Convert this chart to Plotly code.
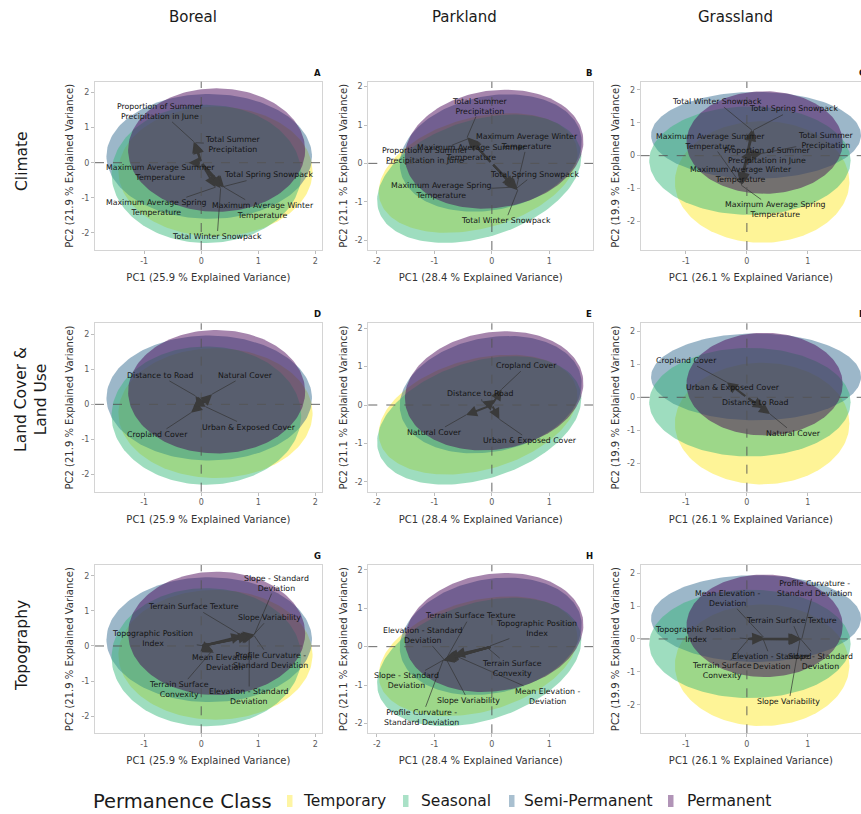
import numpy as np
import plotly.graph_objects as go

FIG_W, FIG_H = 861, 814
FONT = "DejaVu Sans"

regions = ["Boreal", "Parkland", "Grassland"]
themes = ["Climate", "Land Cover &<br>Land Use", "Topography"]
panel_tags = ["A", "B", "C", "D", "E", "F", "G", "H", "I"]
pc1_explained = [25.9, 28.4, 26.1]
pc2_explained = [21.9, 21.1, 19.9]

classes = ["Temporary", "Seasonal", "Semi-Permanent", "Permanent"]
class_colors = ["#FDE725", "#35B779", "#31688E", "#440154"]
# stacking order of the translucent ellipses (bottom to top)
draw_order = [0, 2, 1, 3]

# Group ellipses in PC space, one value per class (Temporary, Seasonal, Semi-Permanent, Permanent)
boreal_ell_cx = [0.25, 0.09, 0.14, 0.27]
boreal_ell_cy = [-0.25, -0.32, 0.18, 0.36]
boreal_ell_a = [1.70, 1.66, 1.80, 1.55]
boreal_ell_b = [1.85, 1.97, 1.78, 1.76]
boreal_ell_ang = [0, 0, -8, 0]

parkland_ell_cx = [-0.24, -0.22, -0.02, 0.04]
parkland_ell_cy = [-0.25, -0.40, 0.27, 0.37]
parkland_ell_a = [1.90, 2.00, 1.70, 1.65]
parkland_ell_b = [1.35, 1.40, 1.40, 1.45]
parkland_ell_ang = [36, 40, 40, 45]

grassland_ell_cx = [0.25, 0.05, 0.15, 0.29]
grassland_ell_cy = [-0.80, -0.15, 0.62, 0.40]
grassland_ell_a = [1.43, 1.65, 1.72, 1.28]
grassland_ell_b = [1.85, 1.65, 1.32, 1.56]
grassland_ell_ang = [0, 0, 0, 0]

# Variable loadings (arrow tips) and label placements
climate_vars = ["Proportion of Summer<br>Precipitation in June", "Total Summer<br>Precipitation",
                "Maximum Average Summer<br>Temperature", "Total Spring Snowpack",
                "Maximum Average Spring<br>Temperature", "Maximum Average Winter<br>Temperature",
                "Total Winter Snowpack"]
boreal_climate_pc1 = [-0.13, -0.10, -0.22, 0.37, 0.25, 0.40, 0.34]
boreal_climate_pc2 = [0.60, 0.57, 0.00, -0.69, -0.70, -0.70, -0.73]
boreal_climate_lab_x = [-0.71, 0.56, -0.71, 1.18, -0.79, 1.08, 0.28]
boreal_climate_lab_y = [1.46, 0.52, -0.29, -0.35, -1.28, -1.35, -2.11]
parkland_climate_pc1 = [-0.40, -0.43, -0.38, 0.43, 0.38, 0.42, 0.45]
parkland_climate_pc2 = [0.65, 0.68, 0.62, -0.65, -0.62, -0.67, -0.70]
parkland_climate_lab_x = [-1.15, -0.20, -0.35, 0.74, -0.87, 0.62, 0.24]
parkland_climate_lab_y = [0.20, 1.49, 0.29, -0.28, -0.72, 0.57, -1.50]
grassland_climate_pc1 = [0.08, 0.25, -0.11, 0.11, -0.09, -0.07, 0.08]
grassland_climate_pc2 = [-0.23, 0.07, -0.84, 0.78, -0.90, -0.86, 0.78]
grassland_climate_lab_x = [0.33, 1.29, -0.60, 0.77, 0.47, -0.10, -0.49]
grassland_climate_lab_y = [-0.01, 0.45, 0.44, 1.42, -1.65, -0.56, 1.65]

land_vars = ["Distance to Road", "Natural Cover", "Cropland Cover", "Urban & Exposed Cover"]
boreal_land_pc1 = [-0.10, 0.19, -0.18, 0.08]
boreal_land_pc2 = [0.24, 0.29, -0.24, -0.07]
boreal_land_lab_x = [-0.73, 0.78, -0.76, 0.84]
boreal_land_lab_y = [0.83, 0.83, -0.86, -0.65]
parkland_land_pc1 = [-0.17, -0.45, 0.17, 0.13]
parkland_land_pc2 = [0.09, -0.26, 0.41, -0.37]
parkland_land_lab_x = [-0.20, -0.99, 0.61, 0.67]
parkland_land_lab_y = [0.30, -0.72, 1.03, -0.93]
grassland_land_pc1 = [0.28, 0.38, -0.33, -0.05]
grassland_land_pc2 = [-0.33, -0.51, 0.46, 0.05]
grassland_land_lab_x = [0.14, 0.77, -0.99, -0.22]
grassland_land_lab_y = [-0.17, -1.10, 1.12, 0.29]

topo_vars = ["Slope - Standard<br>Deviation", "Terrain Surface Texture", "Slope Variability",
             "Topographic Position<br>Index", "Mean Elevation -<br>Deviation",
             "Profile Curvature -<br>Standard Deviation", "Terrain Surface<br>Convexity",
             "Elevation - Standard<br>Deviation"]
boreal_topo_pc1 = [0.93, 0.72, 0.90, 0.06, 0.22, 0.93, 0.20, 0.84]
boreal_topo_pc2 = [0.33, 0.29, 0.29, 0.00, -0.19, 0.29, -0.12, 0.29]
boreal_topo_lab_x = [1.31, -0.13, 1.19, -0.86, 0.40, 1.22, -0.39, 0.84]
boreal_topo_lab_y = [1.79, 1.12, 0.81, 0.22, -0.48, -0.40, -1.24, -1.45]
parkland_topo_pc1 = [-0.82, -0.78, -0.80, -0.03, -0.66, -0.85, -0.06, -0.83]
parkland_topo_pc2 = [-0.33, -0.28, -0.31, 0.02, -0.22, -0.36, -0.05, -0.34]
parkland_topo_lab_x = [-1.48, -0.38, -0.41, 0.78, 0.96, -1.22, 0.35, -1.19]
parkland_topo_lab_y = [-0.89, 0.80, -1.41, 0.48, -1.29, -1.84, -0.57, 0.29]
grassland_topo_pc1 = [0.88, 0.86, 0.87, 0.06, 0.27, 0.90, 0.03, 0.27]
grassland_topo_pc2 = [0.00, 0.01, -0.02, 0.00, 0.06, 0.00, 0.00, -0.02]
grassland_topo_lab_x = [1.20, 0.73, 0.69, -0.85, -0.32, 1.10, -0.41, 0.41]
grassland_topo_lab_y = [-0.69, 0.56, -1.91, 0.14, 1.23, 1.54, -0.96, -0.69]

# Axis setup per region (column)
x_ranges = [[-1.86, 2.11], [-2.15, 1.76], [-1.74, 1.87]]
y_ranges = [[-2.49, 2.31], [-2.26, 2.13], [-2.87, 2.25]]
x_ticks = [[-1, 0, 1, 2], [-2, -1, 0, 1], [-1, 0, 1]]
y_ticks = [-2, -1, 0, 1, 2]

# Plot-area placement in pixels
col_left = [95, 368.3, 640.7]
col_right = [321.7, 593, 861]
row_top = [81.7, 323.3, 565]
row_bottom = [250, 491.7, 733.3]

ellipses = [
    (boreal_ell_cx, boreal_ell_cy, boreal_ell_a, boreal_ell_b, boreal_ell_ang),
    (parkland_ell_cx, parkland_ell_cy, parkland_ell_a, parkland_ell_b, parkland_ell_ang),
    (grassland_ell_cx, grassland_ell_cy, grassland_ell_a, grassland_ell_b, grassland_ell_ang),
]
loadings = [
    [(climate_vars, boreal_climate_pc1, boreal_climate_pc2, boreal_climate_lab_x, boreal_climate_lab_y),
     (climate_vars, parkland_climate_pc1, parkland_climate_pc2, parkland_climate_lab_x, parkland_climate_lab_y),
     (climate_vars, grassland_climate_pc1, grassland_climate_pc2, grassland_climate_lab_x, grassland_climate_lab_y)],
    [(land_vars, boreal_land_pc1, boreal_land_pc2, boreal_land_lab_x, boreal_land_lab_y),
     (land_vars, parkland_land_pc1, parkland_land_pc2, parkland_land_lab_x, parkland_land_lab_y),
     (land_vars, grassland_land_pc1, grassland_land_pc2, grassland_land_lab_x, grassland_land_lab_y)],
    [(topo_vars, boreal_topo_pc1, boreal_topo_pc2, boreal_topo_lab_x, boreal_topo_lab_y),
     (topo_vars, parkland_topo_pc1, parkland_topo_pc2, parkland_topo_lab_x, parkland_topo_lab_y),
     (topo_vars, grassland_topo_pc1, grassland_topo_pc2, grassland_topo_lab_x, grassland_topo_lab_y)],
]

LABEL_SIZE = 7.8
ALPHA = 0.48
SWATCH_ALPHA = 0.42


def rgba(hex_color, alpha):
    h = hex_color.lstrip("#")
    r, g, b = int(h[0:2], 16), int(h[2:4], 16), int(h[4:6], 16)
    return f"rgba({r},{g},{b},{alpha})"


def ellipse_xy(cx, cy, a, b, ang):
    t = np.linspace(0, 2 * np.pi, 181)
    th = np.deg2rad(ang)
    x = cx + a * np.cos(t) * np.cos(th) - b * np.sin(t) * np.sin(th)
    y = cy + a * np.cos(t) * np.sin(th) + b * np.sin(t) * np.cos(th)
    return x, y


def px(xp):
    return xp / FIG_W


def py(yp):
    return 1 - yp / FIG_H


fig = go.Figure()
annotations = []
shapes = []
layout_axes = {}

for r in range(3):
    for c in range(3):
        k = r * 3 + c + 1
        xa = "x" if k == 1 else f"x{k}"
        ya = "y" if k == 1 else f"y{k}"
        xkey = "xaxis" if k == 1 else f"xaxis{k}"
        ykey = "yaxis" if k == 1 else f"yaxis{k}"

        layout_axes[xkey] = dict(
            domain=[px(col_left[c]), px(col_right[c])], range=x_ranges[c], anchor=ya,
            tickvals=x_ticks[c], ticktext=[str(v) for v in x_ticks[c]],
            showgrid=False, zeroline=False, showline=True, mirror=True,
            linecolor="#d4d4d4", linewidth=1, ticks="outside", ticklen=3, tickcolor="#bdbdbd",
            tickfont=dict(family=FONT, size=8, color="#5a5a5a"),
            title=dict(text=f"PC1 ({pc1_explained[c]} % Explained Variance)",
                       font=dict(family=FONT, size=10, color="#333333"), standoff=9),
        )
        layout_axes[ykey] = dict(
            domain=[py(row_bottom[r]), py(row_top[r])], range=y_ranges[c], anchor=xa,
            tickvals=y_ticks, ticktext=[str(v) for v in y_ticks],
            showgrid=False, zeroline=False, showline=True, mirror=True,
            linecolor="#d4d4d4", linewidth=1, ticks="outside", ticklen=3, tickcolor="#bdbdbd",
            tickfont=dict(family=FONT, size=8, color="#5a5a5a"),
            title=dict(text=f"PC2 ({pc2_explained[c]} % Explained Variance)",
                       font=dict(family=FONT, size=10, color="#333333"), standoff=5),
        )

        # class ellipses
        ecx, ecy, ea, eb, eang = ellipses[c]
        for i in draw_order:
            ex, ey = ellipse_xy(ecx[i], ecy[i], ea[i], eb[i], eang[i])
            fig.add_trace(go.Scatter(
                x=ex, y=ey, xaxis=xa, yaxis=ya, mode="lines", fill="toself",
                fillcolor=rgba(class_colors[i], ALPHA), line=dict(width=0),
                name=classes[i], showlegend=False, hoverinfo="skip"))

        # zero reference lines
        shapes.append(dict(type="line", xref=xa, yref=f"{ya} domain", x0=0, x1=0, y0=0, y1=1,
                           line=dict(color="#555555", width=0.9, dash="dash"), layer="above"))
        shapes.append(dict(type="line", xref=f"{xa} domain", yref=ya, x0=0, x1=1, y0=0, y1=0,
                           line=dict(color="#555555", width=0.9, dash="dash"), layer="above"))

        # loadings: leader segments, arrows and labels
        names, lx_tip, ly_tip, lab_x, lab_y = loadings[r][c]
        sx = (col_right[c] - col_left[c]) / (x_ranges[c][1] - x_ranges[c][0])
        sy = (row_bottom[r] - row_top[r]) / (y_ranges[c][1] - y_ranges[c][0])
        seg_x, seg_y = [], []
        for name, tx, ty, lx, ly in zip(names, lx_tip, ly_tip, lab_x, lab_y):
            lines = name.split("<br>")
            hw = max(len(s) for s in lines) * 0.56 * LABEL_SIZE / 2 + 1
            hh = len(lines) * 1.2 * LABEL_SIZE / 2 + 1
            dxp = (tx - lx) * sx
            dyp = (ty - ly) * sy
            if abs(dxp) <= hw and abs(dyp) <= hh:
                continue
            t = min(hw / abs(dxp) if dxp else np.inf, hh / abs(dyp) if dyp else np.inf)
            seg_x += [lx + t * (tx - lx), tx, None]
            seg_y += [ly + t * (ty - ly), ty, None]
        fig.add_trace(go.Scatter(x=seg_x, y=seg_y, xaxis=xa, yaxis=ya, mode="lines",
                                 line=dict(color="#333333", width=0.7),
                                 showlegend=False, hoverinfo="skip"))
        for tx, ty in zip(lx_tip, ly_tip):
            annotations.append(dict(
                x=tx, y=ty, xref=xa, yref=ya, ax=0, ay=0, axref=xa, ayref=ya,
                text="", showarrow=True, arrowhead=2, arrowsize=1.1, arrowwidth=2.0,
                arrowcolor="#3a3a3a", standoff=0, startstandoff=0))
        for name, lx, ly in zip(names, lab_x, lab_y):
            annotations.append(dict(
                x=lx, y=ly, xref=xa, yref=ya, text=name, showarrow=False,
                font=dict(family=FONT, size=LABEL_SIZE, color="#141414"),
                xanchor="center", yanchor="middle", align="center"))

        # panel tag
        annotations.append(dict(
            x=px(col_right[c] - 4) if c < 2 else px(862), y=py(row_top[r] - 9),
            xref="paper", yref="paper", text=f"<b>{panel_tags[k - 1]}</b>", showarrow=False,
            font=dict(family=FONT, size=8.5, color="#111111"), xanchor="center", yanchor="middle"))

# column titles
for c, reg in enumerate(regions):
    annotations.append(dict(x=px([193, 464, 735][c]), y=py(17), xref="paper", yref="paper",
                            text=reg, showarrow=False,
                            font=dict(family=FONT, size=15, color="#1a1a1a"),
                            xanchor="center", yanchor="middle"))

# row titles
for r, th in enumerate(themes):
    annotations.append(dict(x=px([22, 31, 22][r]), y=py([161, 400, 646][r]), xref="paper",
                            yref="paper", text=th, showarrow=False, textangle=-90,
                            font=dict(family=FONT, size=15.5, color="#1a1a1a"),
                            xanchor="center", yanchor="middle", align="center"))

# legend
annotations.append(dict(x=px(182), y=py(801), xref="paper", yref="paper",
                        text="Permanence Class", showarrow=False,
                        font=dict(family=FONT, size=19.5, color="#1a1a1a"),
                        xanchor="center", yanchor="middle"))
swatch_left = [287, 403, 509, 668]
text_left = [301, 419, 522, 685]
for i, cls in enumerate(classes):
    shapes.append(dict(type="rect", xref="paper", yref="paper",
                       x0=px(swatch_left[i]), x1=px(swatch_left[i] + 5.5),
                       y0=py(807), y1=py(795), line=dict(width=0),
                       fillcolor=rgba(class_colors[i], SWATCH_ALPHA)))
    annotations.append(dict(x=px(text_left[i]), y=py(801), xref="paper", yref="paper",
                            text=cls, showarrow=False,
                            font=dict(family=FONT, size=15.5, color="#1a1a1a"),
                            xanchor="left", yanchor="middle"))

fig.update_layout(
    width=FIG_W, height=FIG_H, margin=dict(l=0, r=0, t=0, b=0),
    paper_bgcolor="white", plot_bgcolor="white", showlegend=False,
    annotations=annotations, shapes=shapes, **layout_axes)

fig.write_html("out.html")
